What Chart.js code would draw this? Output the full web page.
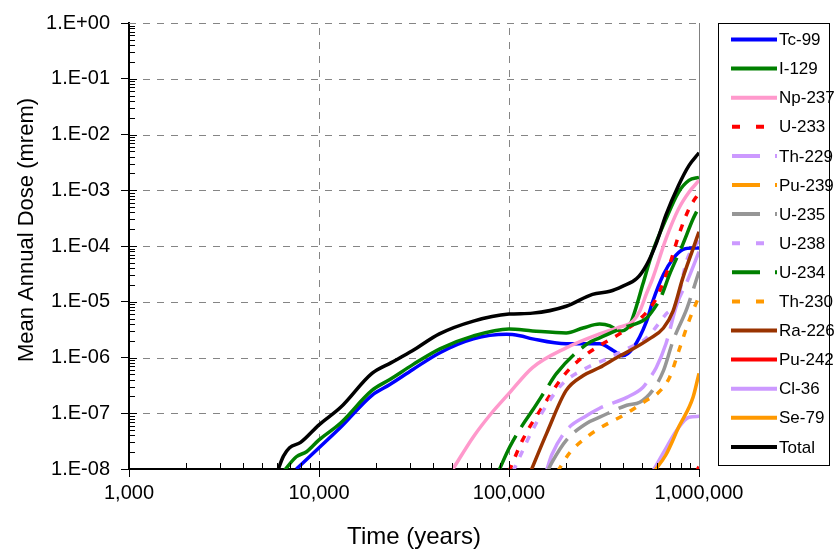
<!DOCTYPE html>
<html>
<head>
<meta charset="utf-8">
<script src="https://cdn.jsdelivr.net/npm/chart.js@4.4.1/dist/chart.umd.min.js"></script>
<style>
  html, body { margin: 0; padding: 0; background: #fff; }
  canvas { display: block; }
</style>
</head>
<body>
<canvas id="doseChart" width="834" height="550"></canvas>
<script>
// tick values and labels
const timeTicks = [1000, 10000, 100000, 1000000];
const timeTickLabels = ['1,000', '10,000', '100,000', '1,000,000'];
const doseTicks = [1e-8, 1e-7, 1e-6, 1e-5, 1e-4, 1e-3, 1e-2, 1e-1, 1];
const doseTickLabels = ['1.E-08', '1.E-07', '1.E-06', '1.E-05', '1.E-04', '1.E-03', '1.E-02', '1.E-01', '1.E+00'];

// series (years / mrem)
const tc99Years = [7600, 10000, 13000, 19000, 23600, 31200, 43300, 65000, 97000, 114000, 133000, 200000, 300000, 355000, 395000, 450000, 530000, 570000, 650000, 730000, 820000, 930000, 1000000];
const tc99Dose = [1e-8, 2.4e-8, 5.6e-8, 2.1e-7, 3.28e-7, 6.1e-7, 1.22e-6, 2.16e-6, 2.6e-6, 2.45e-6, 2.16e-6, 1.76e-6, 1.76e-6, 1.32e-6, 1.08e-6, 1.49e-6, 4.5e-6, 1.0e-5, 3.08e-5, 5.9e-5, 8.6e-5, 9.2e-5, 9.2e-5];

const i129Years = [6500, 7600, 8600, 10000, 13000, 19000, 23600, 31200, 43300, 65000, 100000, 133000, 200000, 245000, 300000, 340000, 380000, 430000, 460000, 506000, 570000, 670000, 780000, 885000, 1000000];
const i129Dose = [9e-9, 1.66e-8, 2.04e-8, 3.33e-8, 6.7e-8, 2.57e-7, 4.03e-7, 7.45e-7, 1.43e-6, 2.44e-6, 3.25e-6, 3.0e-6, 2.76e-6, 3.38e-6, 3.98e-6, 3.7e-6, 3.0e-6, 3.7e-6, 6.8e-6, 2.05e-5, 7.9e-5, 3.04e-4, 9.2e-4, 1.5e-3, 1.7e-3];

const np237Years = [50700, 65000, 80000, 100000, 133000, 200000, 300000, 370000, 450000, 488000, 530000, 570000, 670000, 780000, 885000, 1000000];
const np237Dose = [1e-8, 3.8e-8, 9.6e-8, 2.27e-7, 6.6e-7, 1.49e-6, 2.65e-6, 3.38e-6, 4.5e-6, 6.8e-6, 1.42e-5, 2.6e-5, 1.34e-4, 4.6e-4, 9.2e-4, 1.5e-3];

const u233Years = [100000, 118000, 158000, 186000, 209000, 258000, 311000, 382000, 506000, 596000, 700000, 783000, 885000, 1000000];
const u233Dose = [9e-9, 3.33e-8, 1.71e-7, 3.9e-7, 6.3e-7, 1.17e-6, 1.76e-6, 2.65e-6, 5.5e-6, 1.15e-5, 4.6e-5, 1.58e-4, 4.6e-4, 9e-4];

const th229Years = [157000, 168000, 201000, 258000, 300000, 417000, 506000, 548000, 596000, 670000, 765000, 865000, 1000000];
const th229Dose = [9e-9, 1.8e-8, 5.0e-8, 9.2e-8, 1.23e-7, 1.93e-7, 2.9e-7, 4.2e-7, 6.6e-7, 1.76e-6, 9e-6, 2.3e-5, 7.9e-5];

const pu239Years = [900000, 1000000];
const pu239Dose = [3e-9, 6e-9];

const u235Years = [158000, 168000, 201000, 258000, 300000, 417000, 488000, 570000, 650000, 730000, 865000, 1000000];
const u235Dose = [8.5e-9, 1.3e-8, 3.33e-8, 6.7e-8, 8.5e-8, 1.39e-7, 1.57e-7, 2.57e-7, 5.8e-7, 1.99e-6, 7.7e-6, 3.5e-5];

const u238Years = [105000, 114000, 133000, 164000, 192000, 258000, 327000, 417000, 530000, 670000, 765000, 865000, 1000000];
const u238Dose = [9e-9, 1.66e-8, 5.0e-8, 1.71e-7, 3.43e-7, 6.6e-7, 9.5e-7, 1.43e-6, 2.25e-6, 6.0e-6, 1.0e-5, 5.7e-5, 1.25e-4];

const u234Years = [88000, 101000, 118000, 133000, 158000, 178000, 258000, 300000, 395000, 530000, 580000, 630000, 700000, 820000, 930000, 1000000];
const u234Dose = [9e-9, 2.5e-8, 6.2e-8, 1.13e-7, 2.8e-7, 5.2e-7, 1.76e-6, 2.25e-6, 3.38e-6, 5.1e-6, 7.5e-6, 1.2e-5, 3.1e-5, 1.05e-4, 3.04e-4, 5.0e-4];

const th230Years = [180000, 209000, 258000, 300000, 417000, 530000, 605000, 700000, 783000, 885000, 1000000];
const th230Dose = [9e-9, 1.96e-8, 3.8e-8, 5.4e-8, 1.0e-7, 1.71e-7, 2.27e-7, 4.4e-7, 1.32e-6, 4.5e-6, 1.25e-5];

const ra226Years = [130000, 158000, 200000, 246000, 300000, 370000, 450000, 548000, 650000, 730000, 820000, 930000, 1000000];
const ra226Dose = [9e-9, 4.4e-8, 2.57e-7, 4.75e-7, 6.6e-7, 1.0e-6, 1.43e-6, 2.16e-6, 3.38e-6, 6.8e-6, 2.6e-5, 8.9e-5, 1.8e-4];

const pu242Years = [950000, 1000000];
const pu242Dose = [8e-9, 1.1e-8];

const cl36Years = [570000, 650000, 765000, 885000, 1000000];
const cl36Dose = [9e-9, 1.96e-8, 5.0e-8, 8.5e-8, 8.8e-8];

const se79Years = [580000, 670000, 783000, 930000, 1000000];
const se79Dose = [9e-9, 1.8e-8, 5.7e-8, 1.93e-7, 5.2e-7];

const totalYears = [6000, 6500, 7000, 8000, 10000, 13000, 19000, 24000, 31000, 43000, 65000, 100000, 133000, 200000, 275000, 340000, 395000, 470000, 530000, 600000, 670000, 780000, 885000, 1000000];
const totalDose = [8.5e-9, 1.7e-8, 2.4e-8, 3.0e-8, 6.2e-8, 1.28e-7, 5.2e-7, 8.1e-7, 1.32e-6, 2.65e-6, 4.5e-6, 6.0e-6, 6.25e-6, 8.3e-6, 1.36e-5, 1.54e-5, 1.89e-5, 2.6e-5, 4.6e-5, 1.19e-4, 3.6e-4, 1.22e-3, 2.77e-3, 4.7e-3];

const SOLID = [];
const SHORT = [7, 9];
const LONG = [40, 10];

const series = [
  { label: 'Tc-99', years: tc99Years, dose: tc99Dose, color: '#0000FF', dash: SOLID },
  { label: 'I-129', years: i129Years, dose: i129Dose, color: '#008000', dash: SOLID },
  { label: 'Np-237', years: np237Years, dose: np237Dose, color: '#FF99CC', dash: SOLID },
  { label: 'U-233', years: u233Years, dose: u233Dose, color: '#FF0000', dash: SHORT },
  { label: 'Th-229', years: th229Years, dose: th229Dose, color: '#CC99FF', dash: LONG },
  { label: 'Pu-239', years: pu239Years, dose: pu239Dose, color: '#FF9900', dash: LONG },
  { label: 'U-235', years: u235Years, dose: u235Dose, color: '#969696', dash: LONG },
  { label: 'U-238', years: u238Years, dose: u238Dose, color: '#CC99FF', dash: SHORT },
  { label: 'U-234', years: u234Years, dose: u234Dose, color: '#008000', dash: LONG },
  { label: 'Th-230', years: th230Years, dose: th230Dose, color: '#FF9900', dash: SHORT },
  { label: 'Ra-226', years: ra226Years, dose: ra226Dose, color: '#993300', dash: SOLID },
  { label: 'Pu-242', years: pu242Years, dose: pu242Dose, color: '#FF0000', dash: SOLID },
  { label: 'Cl-36', years: cl36Years, dose: cl36Dose, color: '#CC99FF', dash: SOLID },
  { label: 'Se-79', years: se79Years, dose: se79Dose, color: '#FF9900', dash: SOLID },
  { label: 'Total', years: totalYears, dose: totalDose, color: '#000000', dash: SOLID },
];

const FONT = '"Liberation Sans", Arial, sans-serif';

const datasets = series.map((s, i) => ({
  label: s.label,
  data: s.years.map((t, k) => ({ x: t, y: s.dose[k] })),
  borderColor: s.color,
  backgroundColor: s.color,
  borderWidth: 3.5,
  borderDash: s.dash,
  borderCapStyle: 'butt',
  pointRadius: 0,
  fill: false,
  cubicInterpolationMode: 'monotone',
  clip: 0,
  order: series.length - i,
}));

// dashed grid under the lines
const dashedGrid = {
  id: 'dashedGrid',
  beforeDatasetsDraw(chart) {
    const { ctx, chartArea: a, scales } = chart;
    ctx.save();
    ctx.strokeStyle = '#858585';
    ctx.lineWidth = 1;
    ctx.setLineDash([7, 7]);
    ctx.beginPath();
    timeTicks.forEach(v => {
      const px = Math.round(scales.x.getPixelForValue(v)) + 0.5;
      if (px < a.left + 2) return;
      ctx.moveTo(px, a.bottom);
      ctx.lineTo(px, a.top);
    });
    doseTicks.forEach(v => {
      const py = Math.round(scales.y.getPixelForValue(v)) + 0.5;
      if (py > a.bottom - 2) return;
      ctx.moveTo(a.left, py);
      ctx.lineTo(a.right, py);
    });
    ctx.stroke();
    ctx.restore();
  },
};

// minor ticks inside the plot, y title, right border, legend box
const extras = {
  id: 'extras',
  afterDraw(chart) {
    const { ctx, chartArea: a, scales } = chart;
    const xs = scales.x, ys = scales.y;
    ctx.save();
    ctx.strokeStyle = '#000';
    ctx.lineWidth = 1;
    ctx.beginPath();
    for (let e = 3; e < 6; e++) {
      for (let m = 1; m <= 9; m++) {
        const px = Math.round(xs.getPixelForValue(m * Math.pow(10, e))) + 0.5;
        ctx.moveTo(px, a.bottom);
        ctx.lineTo(px, a.bottom - (m === 1 ? 8 : 6));
      }
    }
    for (let e = -8; e < 0; e++) {
      for (let m = 1; m <= 9; m++) {
        const py = Math.round(ys.getPixelForValue(m * Math.pow(10, e))) + 0.5;
        ctx.moveTo(a.left, py);
        ctx.lineTo(a.left + (m === 1 ? 8 : 6), py);
      }
    }
    ctx.stroke();

    // right frame
    ctx.strokeStyle = '#808080';
    ctx.beginPath();
    ctx.moveTo(a.right + 0.5, a.top);
    ctx.lineTo(a.right + 0.5, a.bottom);
    ctx.stroke();

    // y axis title
    ctx.fillStyle = '#000';
    ctx.font = '22px ' + FONT;
    ctx.textAlign = 'center';
    ctx.textBaseline = 'middle';
    ctx.translate(27, 230);
    ctx.rotate(-Math.PI / 2);
    ctx.fillText('Mean Annual Dose (mrem)', 0, 0);
    ctx.setTransform(1, 0, 0, 1, 0, 0);

    // legend
    ctx.strokeStyle = '#000';
    ctx.lineWidth = 1;
    ctx.strokeRect(718.5, 23.5, 111, 442);
    ctx.font = '17px ' + FONT;
    ctx.textAlign = 'left';
    series.forEach((s, i) => {
      const y = 39.5 + i * 29.1;
      ctx.strokeStyle = s.color;
      ctx.lineWidth = 4;
      ctx.lineCap = 'butt';
      if (s.dash === SHORT) ctx.setLineDash([8, 16]);
      else if (s.dash === LONG) ctx.setLineDash([28, 15]);
      else ctx.setLineDash([]);
      ctx.beginPath();
      ctx.moveTo(s.dash === SOLID ? 731 : 732, y);
      ctx.lineTo(777, y);
      ctx.stroke();
      ctx.setLineDash([]);
      ctx.fillStyle = '#000';
      ctx.fillText(s.label, 779, y + 1);
    });
    ctx.restore();
  },
};

new Chart(document.getElementById('doseChart'), {
  type: 'line',
  data: { datasets },
  options: {
    responsive: false,
    animation: false,
    devicePixelRatio: 1,
    layout: { padding: { top: 19, right: 135, left: 0, bottom: 0 } },
    plugins: {
      legend: { display: false },
      tooltip: { enabled: false },
    },
    scales: {
      x: {
        type: 'logarithmic',
        min: 1000,
        max: 1000000,
        afterBuildTicks(scale) {
          scale.ticks = timeTicks.map(v => ({ value: v }));
        },
        afterFit(scale) { scale.height = 81; },
        ticks: {
          autoSkip: false,
          maxRotation: 0,
          padding: 4,
          color: '#000',
          font: { family: FONT, size: 20 },
          callback: (v) => timeTickLabels[timeTicks.indexOf(v)],
        },
        grid: {
          drawOnChartArea: false,
          drawTicks: true,
          tickLength: 8,
          tickColor: '#000',
        },
        border: { display: true, color: '#000', width: 2 },
        title: {
          display: true,
          text: 'Time (years)',
          color: '#000',
          font: { family: FONT, size: 24, lineHeight: 1 },
          padding: { top: 0, bottom: 1 },
        },
      },
      y: {
        type: 'logarithmic',
        min: 1e-8,
        max: 1,
        afterBuildTicks(scale) {
          scale.ticks = doseTicks.map(v => ({ value: v }));
        },
        afterFit(scale) { scale.width = 129; },
        ticks: {
          autoSkip: false,
          padding: 11,
          color: '#000',
          font: { family: FONT, size: 20 },
          callback: (v) => doseTickLabels[doseTicks.findIndex(t => Math.abs(Math.log10(t) - Math.log10(v)) < 1e-6)],
        },
        grid: {
          drawOnChartArea: false,
          drawTicks: true,
          tickLength: 8,
          tickColor: '#000',
        },
        border: { display: true, color: '#000', width: 2 },
      },
    },
  },
  plugins: [dashedGrid, extras],
});
</script>
</body>
</html>
